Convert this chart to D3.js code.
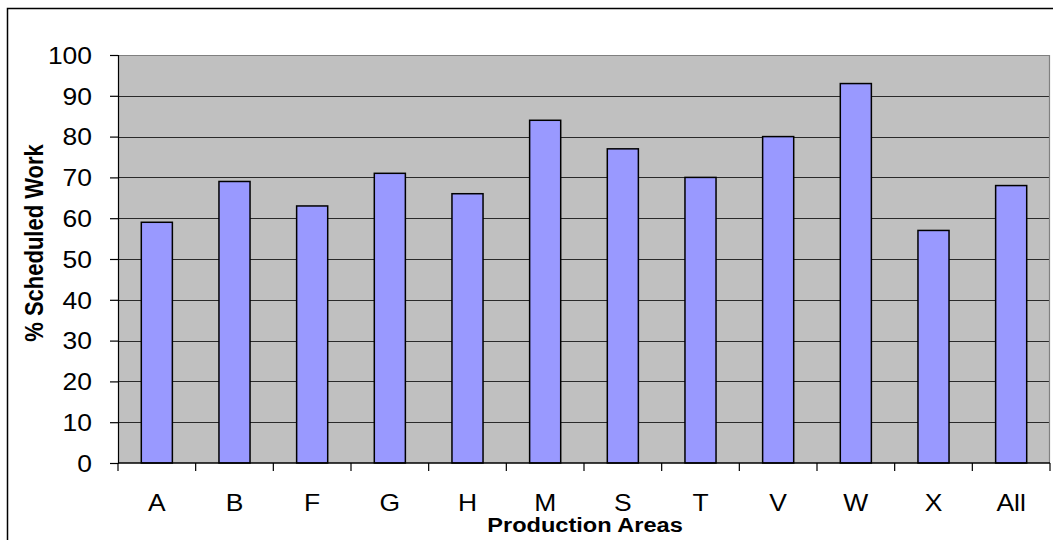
<!DOCTYPE html>
<html>
<head>
<meta charset="utf-8">
<script src="https://cdn.jsdelivr.net/npm/d3@7"></script>
<style>
  html, body { margin: 0; padding: 0; background: #fff; }
  svg { display: block; }
  text { font-family: Arial, "Liberation Sans", sans-serif; fill: #000; }
</style>
</head>
<body>
<svg id="chart" width="1053" height="540"></svg>
<script>
// Share of scheduled work by production area
const categories = ["A", "B", "F", "G", "H", "M", "S", "T", "V", "W", "X", "All"];
const scheduledPct = [59, 69, 63, 71, 66, 84, 77, 70, 80, 93, 57, 68];
const yTicks = [0, 10, 20, 30, 40, 50, 60, 70, 80, 90, 100];
const xTitle = "Production Areas";
const yTitle = "% Scheduled Work";

const W = 1053, H = 540;
const plot = { left: 118, right: 1050, top: 55, bottom: 463 };
const stretch = 1.15; // text is drawn slightly wide

const svg = d3.select("#chart");

// outer chart frame
svg.append("rect")
  .attr("x", 7.5).attr("y", 8.5)
  .attr("width", W + 20).attr("height", H + 20)
  .attr("fill", "#fff").attr("stroke", "#000").attr("stroke-width", 1.5);

const x = d3.scaleBand()
  .domain(categories)
  .range([plot.left, plot.right])
  .paddingInner(0.6)
  .paddingOuter(0.3);

const y = d3.scaleLinear()
  .domain([0, 100])
  .range([plot.bottom, plot.top]);

// plot background
svg.append("rect")
  .attr("x", plot.left).attr("y", plot.top)
  .attr("width", plot.right - plot.left).attr("height", plot.bottom - plot.top)
  .attr("fill", "#C0C0C0");

// horizontal gridlines
svg.append("g")
  .selectAll("line")
  .data(yTicks.filter(t => t > 0 && t < 100))
  .join("line")
  .attr("x1", plot.left).attr("x2", plot.right)
  .attr("y1", d => Math.round(y(d)) + 0.5).attr("y2", d => Math.round(y(d)) + 0.5)
  .attr("stroke", "#2a2a2a").attr("stroke-width", 1);

// plot border (top and right)
svg.append("path")
  .attr("d", `M${plot.left},${plot.top + 0.5}H${plot.right - 0.5}V${plot.bottom}`)
  .attr("fill", "none").attr("stroke", "#808080").attr("stroke-width", 1.2);

// bars
svg.append("g")
  .selectAll("rect")
  .data(categories.map((c, i) => ({ c, v: scheduledPct[i] })))
  .join("rect")
  .attr("x", d => x(d.c))
  .attr("y", d => y(d.v))
  .attr("width", x.bandwidth())
  .attr("height", d => y(0) - y(d.v))
  .attr("fill", "#9999FF")
  .attr("stroke", "#000").attr("stroke-width", 1.5);

// y axis
const yAxis = svg.append("g")
  .attr("transform", `translate(${plot.left},0)`)
  .call(d3.axisLeft(y).tickValues(yTicks).tickSize(8).tickPadding(0).tickFormat(d3.format("d")));
yAxis.select(".domain").attr("stroke", "#000").attr("stroke-width", 1.2);
yAxis.selectAll(".tick line").attr("stroke", "#000").attr("stroke-width", 1.2);
yAxis.selectAll(".tick text").remove();
yAxis.selectAll(".tick").append("text")
  .attr("transform", `translate(-26,0) scale(${stretch},1)`)
  .attr("text-anchor", "end")
  .attr("dy", "0.36em")
  .style("font-size", "23px")
  .text(d => d);

// x axis with ticks at category boundaries
const xg = svg.append("g");
xg.append("line")
  .attr("x1", plot.left).attr("x2", plot.right)
  .attr("y1", plot.bottom).attr("y2", plot.bottom)
  .attr("stroke", "#000").attr("stroke-width", 1.5);
const step = x.step();
xg.selectAll("line.tk")
  .data(d3.range(categories.length + 1))
  .join("line")
  .attr("class", "tk")
  .attr("x1", i => plot.left + i * step).attr("x2", i => plot.left + i * step)
  .attr("y1", plot.bottom).attr("y2", plot.bottom + 8)
  .attr("stroke", "#000").attr("stroke-width", 1.2);
xg.selectAll("text")
  .data(categories)
  .join("text")
  .attr("transform", d => `translate(${x(d) + x.bandwidth() / 2},${511}) scale(${stretch},1)`)
  .attr("text-anchor", "middle")
  .style("font-size", "23px")
  .text(d => d);

// axis titles
svg.append("text")
  .attr("transform", `translate(585,532) scale(${stretch},1)`)
  .attr("text-anchor", "middle")
  .style("font-size", "20.5px").style("font-weight", "bold")
  .text(xTitle);

svg.append("text")
  .attr("transform", `translate(43,243) scale(${stretch},1) rotate(-90)`)
  .attr("text-anchor", "middle")
  .style("font-size", "22px").style("font-weight", "bold")
  .text(yTitle);
</script>
</body>
</html>
